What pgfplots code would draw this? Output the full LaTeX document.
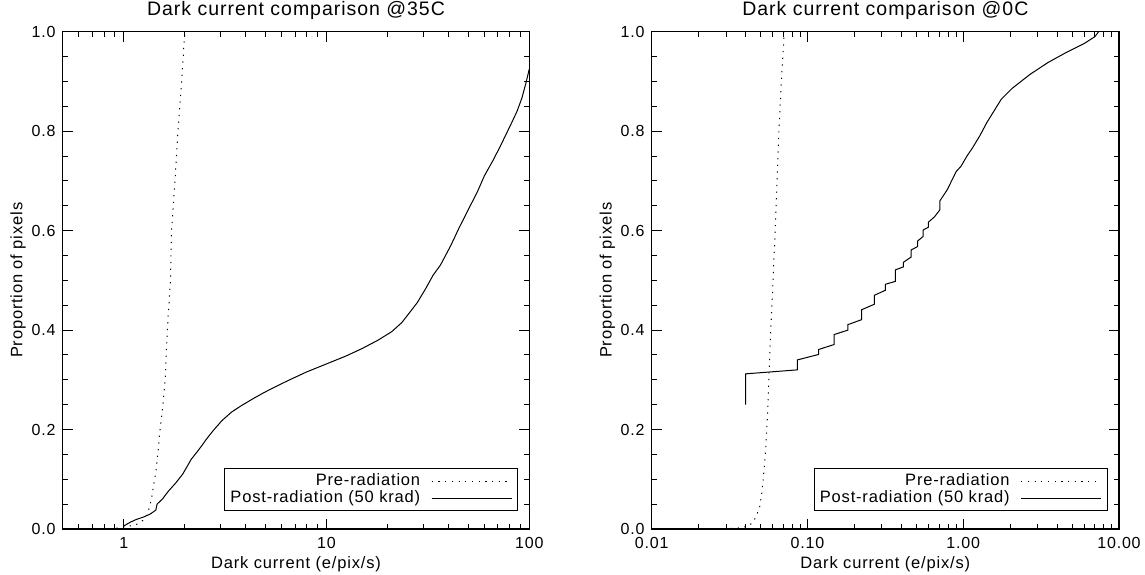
\documentclass[border=0pt]{standalone}
\usepackage{fontspec}
\setmainfont{Liberation Sans}[LetterSpace=5]
\usepackage{pgfplots}
\pgfplotsset{compat=1.18}

\newcommand{\titlefont}{\fontsize{19.5pt}{23pt}\selectfont}
\newcommand{\labelfont}{\fontsize{16.5pt}{20pt}\selectfont}
\newcommand{\tickfont}{\fontsize{16pt}{19pt}\selectfont}

\pgfplotsset{
  idlaxis/.style={
    scale only axis,
    height=497.3pt,
    ymin=0, ymax=1,
    ytick={0,0.2,0.4,0.6,0.8,1.0},
    yticklabels={0.0,0.2,0.4,0.6,0.8,1.0},
    minor y tick num=3,
    tick align=inside,
    major tick length=10pt,
    minor tick length=5pt,
    every tick/.style={black, line width=0.9pt},
    axis line style={black, line width=1.3pt},
    xticklabel style={font=\tickfont, anchor=base, yshift=-20pt},
    yticklabel style={font=\tickfont, anchor=east, inner sep=0pt, xshift=-7pt},
    title style={font=\titlefont, at={(0.5,1)}, anchor=base, yshift=10pt},
    xlabel style={font=\labelfont, at={(0.5,0)}, anchor=base, yshift=-40pt},
    xlabel={Dark current (e/pix/s)},
    ylabel={Proportion of pixels},
    no markers,
    legend plot pos=right,
    legend cell align=right,
    legend image code/.code={\draw[##1] (0pt,0pt) -- (65pt,0pt); \path (0pt,0pt) -- (80pt,0pt);},
    legend style={anchor=south east, draw=black, line width=1pt, fill=white,
      inner xsep=5.6pt, inner ysep=4.7pt, row sep=0.7pt, column sep=11pt,
      font=\labelfont,
      nodes={inner sep=0pt, text height=12pt, text depth=4pt}},
  },
  predot/.style={black, line width=1pt, dash pattern=on 1.2pt off 5.5pt},
  postline/.style={black, line width=1pt},
}

\pgfplotstableread{
x y
0.68 0.0
0.80 0.0
0.90 0.001
1.00 0.004
1.10 0.007
1.17 0.010
1.25 0.018
1.30 0.028
1.33 0.040
1.37 0.060
1.40 0.085
1.44 0.115
1.48 0.160
1.51 0.200
1.56 0.250
1.60 0.300
1.62 0.350
1.64 0.400
1.67 0.450
1.70 0.500
1.72 0.600
1.79 0.700
1.85 0.800
1.93 0.900
2.00 1.000
}\leftpre

\pgfplotstableread{
x y
1.00 0.006
1.07 0.013
1.15 0.019
1.25 0.024
1.35 0.030
1.44 0.038
1.46 0.050
1.55 0.060
1.66 0.076
1.80 0.092
1.95 0.110
2.05 0.125
2.15 0.140
2.30 0.155
2.45 0.170
2.55 0.180
2.75 0.197
3.05 0.218
3.40 0.235
3.80 0.248
4.30 0.261
4.90 0.274
5.60 0.286
6.50 0.299
8.00 0.316
10.0 0.332
12.5 0.348
15.0 0.363
18.0 0.380
21.0 0.397
23.5 0.415
26.0 0.438
28.0 0.455
31.0 0.485
33.5 0.510
36.5 0.531
41.0 0.570
45.0 0.605
50.0 0.642
55.6 0.679
60.0 0.710
66.0 0.740
72.0 0.770
81.0 0.813
87.0 0.840
92.0 0.867
96.0 0.895
100 0.925
}\leftpost

\pgfplotstableread{
x y
0.024 0.000
0.030 0.001
0.036 0.002
0.041 0.005
0.0447 0.013
0.0475 0.030
0.0493 0.044
0.0508 0.070
0.0519 0.097
0.0537 0.151
0.0553 0.225
0.0566 0.312
0.0581 0.400
0.0600 0.490
0.0620 0.600
0.0638 0.700
0.0656 0.800
0.0680 0.900
0.0710 1.000
}\rightpre

\pgfplotstableread{
x y
0.0401 0.250
0.0401 0.312
0.0862 0.320
0.0862 0.340
0.118 0.351
0.118 0.361
0.1485 0.371
0.1485 0.391
0.182 0.400
0.182 0.411
0.223 0.421
0.223 0.441
0.269 0.452
0.269 0.470
0.316 0.480
0.316 0.492
0.367 0.498
0.367 0.521
0.412 0.527
0.412 0.536
0.463 0.547
0.463 0.561
0.509 0.568
0.509 0.579
0.552 0.588
0.552 0.601
0.598 0.607
0.598 0.617
0.655 0.628
0.709 0.642
0.709 0.660
0.789 0.682
0.902 0.719
0.966 0.729
1.057 0.750
1.145 0.766
1.274 0.790
1.416 0.817
1.753 0.864
2.06 0.886
2.68 0.914
3.50 0.938
4.57 0.958
5.97 0.976
7.00 0.990
7.40 1.000
}\rightpost

\begin{document}
\begin{tikzpicture}
\useasboundingbox (0,0) rectangle (1145pt,575pt);

\begin{semilogxaxis}[idlaxis,
  at={(62.7pt,46pt)}, anchor=south west,
  width=466.6pt,
  xmin=0.5, xmax=100,
  xtick={1,10,100},
  xticklabels={1,10,100},
  minor xtick={0.6,0.7,0.8,0.9,2,3,4,5,6,7,8,9,20,30,40,50,60,70,80,90},
  title={Dark current comparison @35C},
  every axis y label/.style={font=\labelfont, at={(axis description cs:-0.0866,0.5)}, anchor=base, rotate=90},
  legend style={at={(axis description cs:1,0)}, xshift=-11pt, yshift=17.5pt},
]
\addplot[predot] table[x=x,y=y] {\leftpre};
\addlegendentry{Pre-radiation}
\addplot[postline] table[x=x,y=y] {\leftpost};
\addlegendentry{Post-radiation (50 krad)}
\end{semilogxaxis}

\begin{semilogxaxis}[idlaxis,
  at={(651.7pt,46pt)}, anchor=south west,
  width=467.3pt,
  xmin=0.01, xmax=10,
  xtick={0.01,0.1,1,10},
  xticklabels={0.01,0.10,1.00,10.00},
  minor xtick={0.02,0.03,0.04,0.05,0.06,0.07,0.08,0.09,0.2,0.3,0.4,0.5,0.6,0.7,0.8,0.9,2,3,4,5,6,7,8,9},
  title={Dark current comparison @0C},
  every axis y label/.style={font=\labelfont, at={(axis description cs:-0.0856,0.5)}, anchor=base, rotate=90},
  legend style={at={(axis description cs:1,0)}, xshift=-11.3pt, yshift=17.5pt},
]
\addplot[predot] table[x=x,y=y] {\rightpre};
\addlegendentry{Pre-radiation}
\addplot[postline] table[x=x,y=y] {\rightpost};
\addlegendentry{Post-radiation (50 krad)}
\end{semilogxaxis}
\end{tikzpicture}
\end{document}
